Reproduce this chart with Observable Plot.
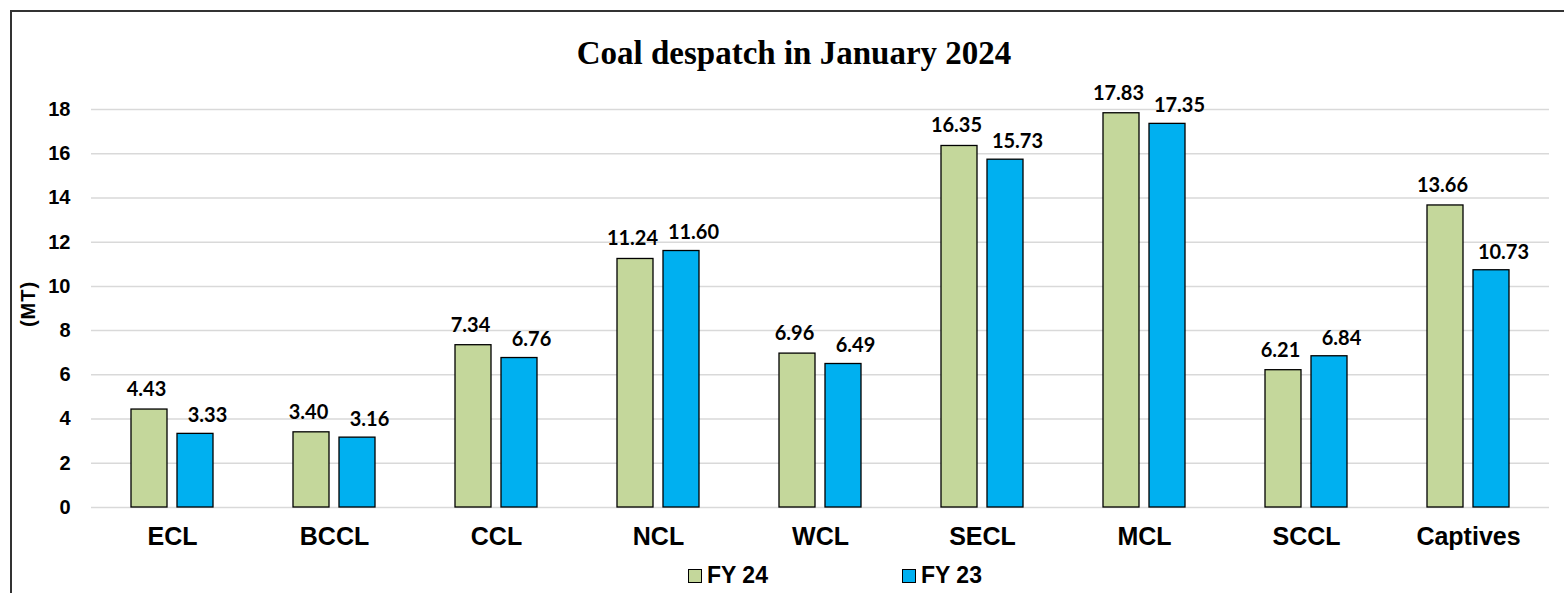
<!DOCTYPE html>
<html>
<head>
<meta charset="utf-8">
<script src="https://cdn.jsdelivr.net/npm/d3@7"></script>
<script src="https://cdn.jsdelivr.net/npm/@observablehq/plot@0.6"></script>
<style>
  html, body { margin: 0; padding: 0; background: #fff; overflow: hidden; }
  #wrap { position: relative; width: 1564px; height: 593px; }
  #frame { position: absolute; left: 10px; top: 10px; width: 1600px; height: 700px; border: 2px solid #333; box-sizing: border-box; }
  #title { position: absolute; left: 0; width: 1588px; top: 35px; text-align: center; font: bold 33px "Liberation Serif", "Times New Roman", serif; color: #000; }
  #ylab { position: absolute; left: 28px; top: 304px; transform: translate(-50%, -50%) rotate(-90deg); font: bold 20px "Liberation Sans", Arial, sans-serif; letter-spacing: 1px; white-space: nowrap; }
  #legend { position: absolute; top: 562px; left: 0; font: bold 23px "Liberation Sans", Arial, sans-serif; }
  .item { position: absolute; display: flex; align-items: center; white-space: nowrap; }
  .sw { width: 12px; height: 12px; border: 1px solid #000; margin-right: 5px; }
  #chart { position: absolute; left: 0; top: 0; }
</style>
</head>
<body>
<div id="wrap">
  <div id="frame"></div>
  <div id="chart"></div>
  <div id="title">Coal despatch in January 2024</div>
  <div id="ylab">(MT)</div>
  <div id="legend"></div>
</div>
<script>
const categories = ["ECL", "BCCL", "CCL", "NCL", "WCL", "SECL", "MCL", "SCCL", "Captives"];
const seriesNames = ["FY 24", "FY 23"];
const fy24 = [4.43, 3.40, 7.34, 11.24, 6.96, 16.35, 17.83, 6.21, 13.66];
const fy23 = [3.33, 3.16, 6.76, 11.60, 6.49, 15.73, 17.35, 6.84, 10.73];
const yTicks = [0, 2, 4, 6, 8, 10, 12, 14, 16, 18];
const colors = ["#c4d79b", "#00b0f0"];

const data = [];
categories.forEach((c, i) => {
  data.push({cat: c, series: seriesNames[0], value: fy24[i]});
  data.push({cat: c, series: seriesNames[1], value: fy23[i]});
});

const labelStyle = {fontSize: 20, fontWeight: "bold", fontFamily: "Lato, sans-serif", fill: "#000"};

const chart = Plot.plot({
  width: 1564,
  height: 593,
  marginLeft: 88,
  marginRight: 13,
  marginTop: 109,
  marginBottom: 86,
  style: {background: "transparent", overflow: "visible"},
  fx: {domain: categories, padding: 0, label: null},
  x: {domain: seriesNames, paddingInner: 0.213, paddingOuter: 0.836, axis: null},
  y: {domain: [0, 18], label: null},
  color: {domain: seriesNames, range: colors},
  marks: [
    Plot.gridY(yTicks, {stroke: "#d9d9d9", strokeOpacity: 1, strokeWidth: 1.5}),
    Plot.axisY(yTicks, {tickSize: 0, tickPadding: 21, label: null,
      fontSize: 20, fontWeight: "bold", fontFamily: "Liberation Sans, Arial, sans-serif", fill: "#000"}),
    Plot.axisFx({anchor: "bottom", tickSize: 0, tickPadding: 20, label: null,
      fontSize: 25, fontWeight: "bold", fontFamily: "Liberation Sans, Arial, sans-serif", fill: "#000"}),
    Plot.barY(data, {fx: "cat", x: "series", y: "value", fill: "series", stroke: "#000", strokeWidth: 1.3}),
    Plot.text(data.filter(d => d.series === seriesNames[0]), {fx: "cat", x: "series", y: "value",
      text: d => d.value.toFixed(2), dx: -3, dy: -20, ...labelStyle}),
    Plot.text(data.filter(d => d.series === seriesNames[1]), {fx: "cat", x: "series", y: "value",
      text: d => d.value.toFixed(2), dx: 12, dy: -18, ...labelStyle})
  ]
});
document.getElementById("chart").appendChild(chart);

const legend = document.getElementById("legend");
const legendX = [688, 902];
seriesNames.forEach((s, i) => {
  const it = document.createElement("div");
  it.className = "item";
  it.style.left = legendX[i] + "px";
  const sw = document.createElement("div");
  sw.className = "sw";
  sw.style.background = colors[i];
  const t = document.createElement("span");
  t.textContent = s;
  it.appendChild(sw); it.appendChild(t);
  legend.appendChild(it);
});
</script>
</body>
</html>
